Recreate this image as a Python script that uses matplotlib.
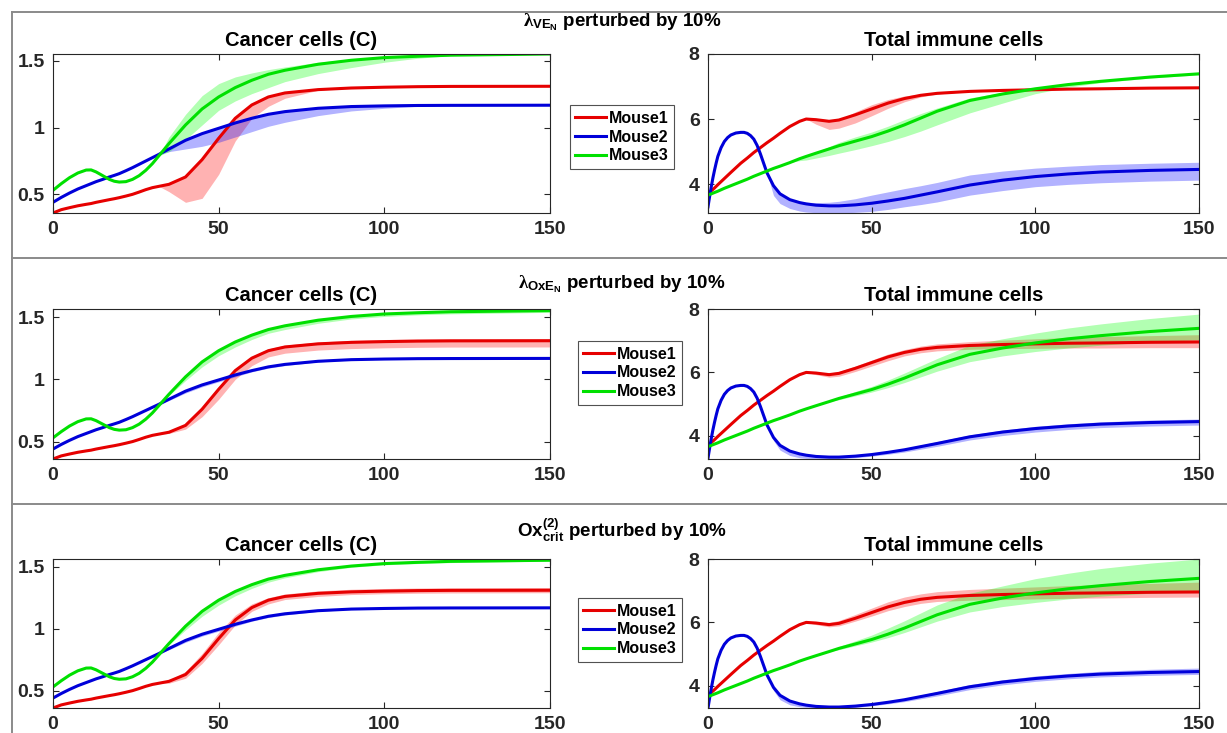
import numpy as np
import matplotlib
matplotlib.use('Agg')
from matplotlib import pyplot as plt
from matplotlib.lines import Line2D

plt.rcParams['font.family'] = ['Liberation Sans', 'DejaVu Sans']
plt.rcParams['font.weight'] = 'bold'
plt.rcParams['mathtext.fontset'] = 'custom'
plt.rcParams['mathtext.rm'] = 'Liberation Serif'
plt.rcParams['mathtext.it'] = 'Liberation Serif:italic'
plt.rcParams['mathtext.bf'] = 'Liberation Sans:bold'

# time grids
tc = [0, 2.5, 5, 7.5, 10, 11.5, 13, 15, 17, 18.5, 20, 22, 24, 26, 28, 30, 32,
      35, 40, 45, 50, 55, 60, 65, 70, 80, 90, 100, 110, 120, 150]
ti = [0, 0.5, 1, 1.5, 2, 2.5, 3, 4, 5, 6, 7, 8.5, 10, 11, 12, 13, 14, 15, 16, 17,
      18, 20, 22, 25, 28, 30, 33, 37, 40, 45, 50, 55, 60, 65, 70, 80, 90, 100, 110, 120, 135, 150]

# cancer cells (C), nominal curves
c_red = [0.36, 0.385, 0.40, 0.414, 0.425, 0.431, 0.44, 0.45, 0.46, 0.467, 0.475, 0.487, 0.50,
         0.517, 0.535, 0.55, 0.56,
         0.575, 0.63, 0.76, 0.92, 1.07, 1.17, 1.23, 1.26, 1.285, 1.297, 1.303, 1.307, 1.309, 1.31]
c_blue = [0.44, 0.477, 0.51, 0.54, 0.565, 0.58, 0.595, 0.612, 0.63, 0.642, 0.655, 0.677, 0.70,
          0.725, 0.75, 0.775, 0.80,
          0.84, 0.905, 0.955, 0.995, 1.035, 1.07, 1.10, 1.12, 1.145, 1.158, 1.163, 1.166, 1.167, 1.168]
c_green = [0.53, 0.58, 0.625, 0.66, 0.682, 0.683, 0.668, 0.64, 0.612, 0.598, 0.592, 0.595, 0.612,
           0.64, 0.68, 0.73, 0.79,
           0.88, 1.02, 1.14, 1.23, 1.30, 1.355, 1.40, 1.43, 1.475, 1.505, 1.525, 1.535, 1.543, 1.552]

# cancer bands, row 1 (lambda VE_N)
c_red_lo1 = c_red[:17] + [0.52, 0.44, 0.47, 0.65, 0.90, 1.07, 1.16, 1.22, 1.28, 1.297, 1.303, 1.307, 1.309, 1.31]
c_red_hi1 = list(c_red)
c_blue_lo1 = c_blue[:17] + [0.82, 0.84, 0.86, 0.89, 0.93, 0.97, 1.01, 1.04, 1.09, 1.125, 1.145, 1.16, 1.167, 1.168]
c_blue_hi1 = list(c_blue)
c_green_lo1 = c_green[:17] + [0.82, 0.91, 1.02, 1.13, 1.20, 1.255, 1.30, 1.345, 1.405, 1.45, 1.49, 1.52, 1.54, 1.552]
c_green_hi1 = c_green[:17] + [0.93, 1.10, 1.24, 1.33, 1.38, 1.41, 1.435, 1.455, 1.49, 1.515, 1.53, 1.538, 1.545, 1.552]

# row 2 (lambda OxE_N)
c_red_lo2 = c_red[:17] + [0.565, 0.60, 0.70, 0.84, 1.00, 1.11, 1.18, 1.21, 1.235, 1.247, 1.253, 1.257, 1.259, 1.26]
c_red_hi2 = c_red[:17] + [0.58, 0.64, 0.78, 0.94, 1.085, 1.185, 1.245, 1.275, 1.30, 1.313, 1.32, 1.324, 1.326, 1.328]
c_blue_lo2 = c_blue[:17] + [0.83, 0.89, 0.94, 0.98, 1.02, 1.06, 1.09, 1.11, 1.14, 1.155, 1.161, 1.166, 1.167, 1.168]
c_blue_hi2 = list(c_blue)
c_green_lo2 = c_green[:17] + [0.87, 0.99, 1.10, 1.19, 1.26, 1.32, 1.37, 1.40, 1.45, 1.485, 1.505, 1.518, 1.526, 1.538]
c_green_hi2 = c_green[:17] + [0.885, 1.03, 1.15, 1.24, 1.31, 1.365, 1.41, 1.44, 1.485, 1.512, 1.532, 1.542, 1.55, 1.565]

# row 3 (Ox_crit^(2))
c_red_lo3 = c_red[:17] + [0.56, 0.60, 0.72, 0.87, 1.03, 1.14, 1.20, 1.235, 1.26, 1.275, 1.282, 1.286, 1.288, 1.29]
c_red_hi3 = c_red[:17] + [0.585, 0.655, 0.80, 0.97, 1.11, 1.20, 1.25, 1.28, 1.305, 1.318, 1.324, 1.328, 1.33, 1.332]
c_blue_lo3 = c_blue[:17] + [0.83, 0.89, 0.94, 0.98, 1.02, 1.06, 1.09, 1.11, 1.14, 1.155, 1.161, 1.166, 1.167, 1.168]
c_blue_hi3 = list(c_blue)
c_green_lo3 = c_green[:17] + [0.87, 0.99, 1.10, 1.19, 1.265, 1.325, 1.375, 1.41, 1.46, 1.495, 1.515, 1.525, 1.533, 1.545]
c_green_hi3 = c_green[:17] + [0.885, 1.03, 1.15, 1.24, 1.31, 1.365, 1.41, 1.44, 1.485, 1.512, 1.532, 1.542, 1.55, 1.562]

# total immune cells, nominal curves
i_red = [3.69, 3.74, 3.79, 3.835, 3.88, 3.93, 3.98, 4.075, 4.17, 4.265, 4.36, 4.50, 4.64, 4.72,
         4.80, 4.885, 4.97, 5.045, 5.12, 5.195,
         5.27, 5.41, 5.56, 5.77, 5.93, 6.00, 5.98, 5.93, 5.97, 6.13, 6.31, 6.49, 6.63, 6.73, 6.79,
         6.85, 6.88, 6.90, 6.92, 6.93, 6.95, 6.96]
i_blue = [3.30, 3.62, 3.92, 4.19, 4.43, 4.65, 4.85, 5.12, 5.31, 5.43, 5.51, 5.57, 5.59, 5.59,
          5.56, 5.49, 5.38, 5.19, 4.93, 4.64,
          4.35, 3.95, 3.70, 3.52, 3.43, 3.39, 3.35, 3.33, 3.33, 3.36, 3.41, 3.48, 3.56, 3.66, 3.76,
          3.97, 4.12, 4.23, 4.31, 4.37, 4.42, 4.45]
i_green = [3.66, 3.68, 3.70, 3.72, 3.74, 3.76, 3.78, 3.825, 3.87, 3.91, 3.95, 4.01, 4.07, 4.11,
           4.15, 4.195, 4.24, 4.28, 4.32, 4.36,
           4.40, 4.48, 4.55, 4.66, 4.78, 4.85, 4.95, 5.08, 5.18, 5.32, 5.46, 5.63, 5.82, 6.03, 6.24,
           6.57, 6.77, 6.93, 7.06, 7.16, 7.29, 7.39]

# immune bands, row 1
i_red_lo1 = i_red[:26] + [5.84, 5.68, 5.72, 5.88, 6.10, 6.33, 6.53, 6.68, 6.77, 6.85, 6.88, 6.90, 6.92, 6.93, 6.95, 6.96]
i_red_hi1 = i_red[:29] + [6.22, 6.44, 6.60, 6.71, 6.77, 6.80, 6.85, 6.88, 6.90, 6.92, 6.93, 6.95, 6.96]
i_blue_lo1 = i_blue[:21] + [3.65, 3.40, 3.25, 3.17, 3.14, 3.12, 3.11, 3.11, 3.13, 3.16, 3.22, 3.30, 3.37, 3.45,
                            3.66, 3.80, 3.92, 3.99, 4.04, 4.09, 4.12]
i_blue_hi1 = i_blue[:24] + [3.46, 3.44, 3.43, 3.44, 3.47, 3.55, 3.66, 3.76, 3.86, 3.95, 4.05, 4.28, 4.40, 4.49,
                            4.55, 4.60, 4.64, 4.67]
i_green_lo1 = i_green[:24] + [4.72, 4.74, 4.80, 4.88, 4.95, 5.06, 5.18, 5.31, 5.46, 5.63, 5.82, 6.19, 6.49, 6.78,
                              6.98, 7.12, 7.26, 7.36]
i_green_hi1 = i_green[:26] + [4.98, 5.15, 5.28, 5.45, 5.60, 5.78, 5.98, 6.17, 6.34, 6.65, 6.82, 6.96, 7.08, 7.18,
                              7.31, 7.42]

# row 2
i_red_lo2 = i_red[:26] + [5.93, 5.85, 5.88, 6.03, 6.20, 6.37, 6.52, 6.62, 6.68, 6.73, 6.75, 6.76, 6.77, 6.77, 6.78, 6.78]
i_red_hi2 = i_red[:26] + [6.01, 5.98, 6.03, 6.20, 6.39, 6.58, 6.72, 6.83, 6.90, 6.97, 7.02, 7.06, 7.10, 7.13, 7.16, 7.19]
i_blue_lo2 = i_blue[:21] + [3.85, 3.55, 3.38, 3.31, 3.29, 3.28, 3.27, 3.28, 3.31, 3.36, 3.42, 3.49, 3.58, 3.67,
                            3.87, 4.01, 4.12, 4.20, 4.26, 4.31, 4.34]
i_blue_hi2 = i_blue[:31] + [3.51, 3.60, 3.71, 3.82, 4.03, 4.18, 4.30, 4.38, 4.44, 4.50, 4.53]
i_green_lo2 = i_green[:28] + [5.14, 5.26, 5.38, 5.52, 5.68, 5.86, 6.04, 6.34, 6.52, 6.66, 6.77, 6.86, 6.96, 7.03]
i_green_hi2 = i_green[:28] + [5.23, 5.40, 5.56, 5.76, 5.98, 6.21, 6.44, 6.86, 7.06, 7.24, 7.40, 7.53, 7.70, 7.84]

# row 3
i_red_lo3 = i_red[:26] + [5.93, 5.86, 5.89, 6.04, 6.20, 6.37, 6.50, 6.60, 6.66, 6.70, 6.72, 6.74, 6.76, 6.77, 6.79, 6.80]
i_red_hi3 = i_red[:26] + [6.02, 6.00, 6.06, 6.25, 6.45, 6.65, 6.80, 6.90, 6.97, 7.04, 7.08, 7.12, 7.16, 7.19, 7.23, 7.27]
i_blue_lo3 = i_blue[:21] + [3.85, 3.56, 3.40, 3.34, 3.32, 3.31, 3.30, 3.30, 3.32, 3.37, 3.43, 3.50, 3.59, 3.68,
                            3.88, 4.03, 4.14, 4.22, 4.28, 4.33, 4.36]
i_blue_hi3 = i_blue[:31] + [3.51, 3.60, 3.71, 3.82, 4.04, 4.19, 4.31, 4.39, 4.46, 4.52, 4.56]
i_green_lo3 = i_green[:28] + [5.14, 5.26, 5.38, 5.52, 5.68, 5.86, 6.04, 6.33, 6.50, 6.63, 6.74, 6.83, 6.92, 6.97]
i_green_hi3 = i_green[:28] + [5.24, 5.42, 5.60, 5.82, 6.05, 6.30, 6.55, 6.92, 7.15, 7.38, 7.55, 7.70, 7.87, 8.00]

labels = ['Mouse1', 'Mouse2', 'Mouse3']
row_titles = [r'$\mathrm{\lambda}_{\mathbf{VE_N}}$ perturbed by 10%',
              r'$\mathrm{\lambda}_{\mathbf{OxE_N}}$ perturbed by 10%',
              r'$\mathbf{Ox}^{\mathbf{(2)}}_{\mathbf{crit}}$ perturbed by 10%']

line_cols = [(0.9, 0.0, 0.0), (0.0, 0.0, 0.85), (0.0, 0.88, 0.0)]
band_cols = [(1.0, 0.0, 0.0), (0.0, 0.0, 1.0), (0.0, 1.0, 0.0)]

cancer_lines = [c_red, c_blue, c_green]
immune_lines = [i_red, i_blue, i_green]
cancer_bands = [[(c_red_lo1, c_red_hi1), (c_blue_lo1, c_blue_hi1), (c_green_lo1, c_green_hi1)],
                [(c_red_lo2, c_red_hi2), (c_blue_lo2, c_blue_hi2), (c_green_lo2, c_green_hi2)],
                [(c_red_lo3, c_red_hi3), (c_blue_lo3, c_blue_hi3), (c_green_lo3, c_green_hi3)]]
immune_bands = [[(i_red_lo1, i_red_hi1), (i_blue_lo1, i_blue_hi1), (i_green_lo1, i_green_hi1)],
                [(i_red_lo2, i_red_hi2), (i_blue_lo2, i_blue_hi2), (i_green_lo2, i_green_hi2)],
                [(i_red_lo3, i_red_hi3), (i_blue_lo3, i_blue_hi3), (i_green_lo3, i_green_hi3)]]

W, H = 1227, 733
fig = plt.figure(figsize=(W / 100, H / 100), dpi=100)

def fx(px):
    return px / W

def fy(py):
    return 1 - py / H

# pixel layout of each row: axes top, axes bottom, title baseline, legend centre
row_top = [54, 309, 559]
row_bot = [213, 459, 708]
row_sup = [26, 288, 537]
row_leg = [(622, 137), (630, 373), (630, 630)]
frame_y = [12, 258, 504]

for y in frame_y:
    fig.add_artist(Line2D([fx(12), 1], [fy(y), fy(y)], color='#8a8a8a', lw=1.4))
fig.add_artist(Line2D([fx(12), fx(12)], [fy(12), 0], color='#8a8a8a', lw=1.4))

def style(ax):
    ax.tick_params(direction='in', top=True, right=True, length=4, width=0.8,
                   labelsize=14, pad=6, colors='#262626')
    for s in ax.spines.values():
        s.set_color('#262626')
        s.set_linewidth(0.8)
    for lab in ax.get_xticklabels() + ax.get_yticklabels():
        lab.set_fontweight('bold')

for r in range(3):
    h = row_bot[r] - row_top[r]
    axL = fig.add_axes([fx(53), fy(row_bot[r]), fx(497), h / H])
    axR = fig.add_axes([fx(708), fy(row_bot[r]), fx(491), h / H])

    handles = []
    for k in range(3):
        lo, hi = cancer_bands[r][k]
        axL.fill_between(tc, lo, hi, color=band_cols[k], alpha=0.3, lw=0)
        ln, = axL.plot(tc, cancer_lines[k], color=line_cols[k], lw=2.2, label=labels[k])
        handles.append(ln)
        lo, hi = immune_bands[r][k]
        axR.fill_between(ti, lo, hi, color=band_cols[k], alpha=0.3, lw=0)
        axR.plot(ti, immune_lines[k], color=line_cols[k], lw=2.2)

    cl = min(min(b[0]) for b in cancer_bands[r])
    ch = max(max(b[1]) for b in cancer_bands[r])
    axL.set_xlim(0, 150)
    axL.set_ylim(cl, ch)
    axL.set_xticks([0, 50, 100, 150])
    axL.set_yticks([0.5, 1, 1.5])
    axL.set_yticklabels(['0.5', '1', '1.5'])
    axL.set_title('Cancer cells (C)', fontsize=14.5, fontweight='bold', pad=6)

    il = min(min(b[0]) for b in immune_bands[r])
    axR.set_xlim(0, 150)
    axR.set_ylim(il, 8)
    axR.set_xticks([0, 50, 100, 150])
    axR.set_yticks([4, 6, 8])
    axR.set_title('Total immune cells', fontsize=14.5, fontweight='bold', pad=6)

    style(axL)
    style(axR)

    fig.text(0.507, fy(row_sup[r]), row_titles[r], ha='center', va='baseline',
             fontsize=13.5, fontweight='bold')

    lx, ly = row_leg[r]
    leg = fig.legend(handles=handles, loc='center', bbox_to_anchor=(fx(lx), fy(ly)),
                     fontsize=11.5, frameon=True, fancybox=False, handlelength=1.9,
                     handletextpad=0.2, borderpad=0.35, labelspacing=0.25, borderaxespad=0)
    leg.get_frame().set_edgecolor('#262626')
    leg.get_frame().set_linewidth(0.8)
    for txt in leg.get_texts():
        txt.set_fontweight('bold')

fig.savefig('out.png', dpi=100)
